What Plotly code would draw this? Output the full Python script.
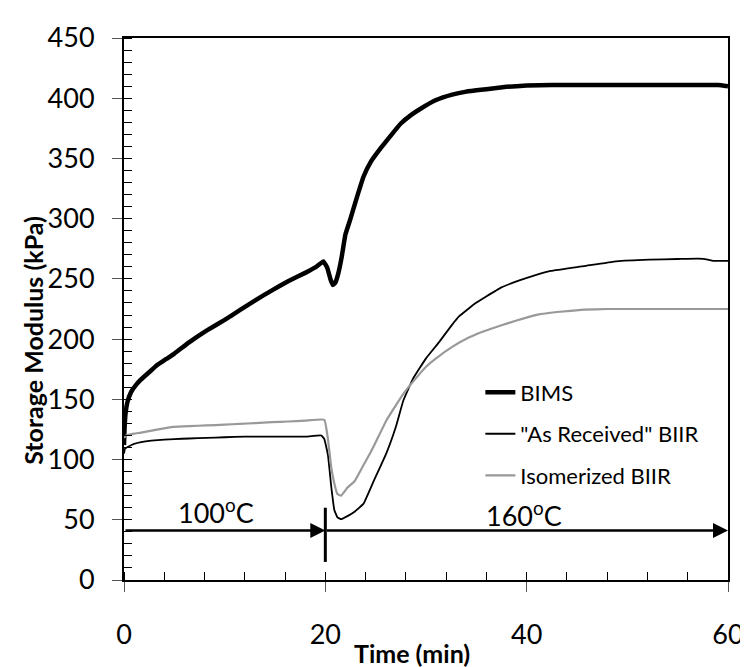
import plotly.graph_objects as go

# ---- data ----
bims_t = [0, 0.05, 0.15, 0.35, 0.7, 1.2, 1.7, 2.5, 3.3, 4.2, 5.0, 6.5, 8.2, 10, 11.5, 13, 14.7, 16.3, 18,
          19.0, 19.8, 20.2, 20.5, 20.75, 21.0, 21.3, 21.6, 22.0, 22.5, 23.0, 23.8, 24.5, 25.5, 26.5, 27.5,
          28.5, 29.5, 31, 32.6, 34, 36, 38, 40, 42.5, 45, 50, 55, 59, 60]
bims_v = [112, 125, 138, 148, 156, 162, 166.5, 172.5, 178.5, 183.5, 188, 197.5, 207, 216, 224, 232, 240.5, 248, 255,
          259.5, 264.5, 259, 250, 245, 247, 255, 267, 287, 300, 314, 335, 347, 358.5, 369, 379,
          386, 391.5, 398.5, 403, 405.5, 407.5, 409.5, 410.5, 411, 411, 411, 411, 411, 410]

ar_t = [0, 0.1, 0.5, 1.0, 1.7, 2.7, 4, 5, 6.5, 8.2, 10, 12, 14, 16, 18, 19.6, 19.9, 20.26, 20.6, 20.9, 21.2,
        21.57, 22.2, 22.9, 23.8, 24.8, 26.1, 27, 27.75, 28.7, 30, 31.3, 32.6, 33.3, 34.9, 35.9, 37.5, 39.2,
        40.8, 42.4, 45.7, 48.9, 52.2, 55, 57, 58, 58.5, 60]
ar_v = [105, 109, 111, 113, 114.5, 115.7, 116.5, 117, 117.5, 118, 118.5, 119, 119, 119, 119, 120, 117, 103.6,
        76.7, 58, 52, 50.5, 53, 56.6, 63.4, 82, 106, 127, 149, 167, 184, 197.5, 212, 219, 229.7, 235, 243,
        248.5, 253, 256.6, 260.6, 264.6, 266, 266.5, 266.8, 266, 265, 265]

iso_t = [0, 0.2, 1.0, 1.7, 3, 4.95, 6.5, 8.2, 10, 11.5, 13, 14.7, 16.3, 18, 19.9, 20.26, 20.6, 20.9, 21.2,
         21.57, 22.2, 22.9, 23.7, 24.5, 25.3, 26.1, 27, 27.75, 29.05, 30, 31, 32.6, 34.3, 35.9, 37.5, 39,
         41.1, 43, 45.7, 48, 50, 55, 60]
iso_v = [118, 120, 121.5, 122.4, 124.5, 127.2, 127.8, 128.3, 129, 129.6, 130.3, 131, 131.6, 132.3, 133, 117,
         92.8, 80, 71.4, 70, 76.7, 82, 94, 106, 119.5, 133, 145, 154.6, 168, 177, 184, 193.5, 201.5, 207,
         211.5, 215.5, 220.3, 222.5, 224.4, 225, 225, 225, 225]

series_names = ["BIMS", "\"As Received\" BIIR", "Isomerized BIIR"]
x_ticks = [0, 20, 40, 60]
y_ticks = [0, 50, 100, 150, 200, 250, 300, 350, 400, 450]

FONT = "Lato, 'Open Sans', sans-serif"

fig = go.Figure()
fig.add_trace(go.Scatter(x=bims_t, y=bims_v, mode="lines", name=series_names[0], legendgroup="a",
                         line=dict(color="black", width=4.5, shape="spline", smoothing=0.3)))
fig.add_trace(go.Scatter(x=ar_t, y=ar_v, mode="lines", name=series_names[1], legendgroup="b",
                         line=dict(color="black", width=1.8, shape="spline", smoothing=0.3)))
fig.add_trace(go.Scatter(x=iso_t, y=iso_v, mode="lines", name=series_names[2], legendgroup="c",
                         line=dict(color="#999999", width=2.2, shape="spline", smoothing=0.3)))

# temperature arrows
fig.add_annotation(x=20, y=41, ax=0, ay=41, xref="x", yref="y", axref="x", ayref="y",
                   showarrow=True, arrowhead=2, arrowsize=1.2, arrowwidth=2.5, arrowcolor="black",
                   standoff=0, text="")
fig.add_annotation(x=60, y=41, ax=20, ay=41, xref="x", yref="y", axref="x", ayref="y",
                   showarrow=True, arrowhead=2, arrowsize=1.2, arrowwidth=2.5, arrowcolor="black",
                   standoff=0, text="")
fig.add_shape(type="line", x0=20, x1=20, y0=15, y1=60, xref="x", yref="y",
              line=dict(color="black", width=3))
fig.add_annotation(x=9.1, y=57, xref="x", yref="y", showarrow=False,
                   text="100<sup>o</sup>C", font=dict(family=FONT, size=27, color="black"))
fig.add_annotation(x=39.7, y=55, xref="x", yref="y", showarrow=False,
                   text="160<sup>o</sup>C", font=dict(family=FONT, size=27, color="black"))

# axis titles
fig.add_annotation(x=0.477, y=-0.134, xref="paper", yref="paper", showarrow=False,
                   text="<b>Time (min)</b>", font=dict(family=FONT, size=25, color="black"),
                   xanchor="center", yanchor="middle")
fig.add_annotation(x=-0.15, y=0.442, xref="paper", yref="paper", showarrow=False, textangle=-90,
                   text="<b>Storage Modulus (kPa)</b>", font=dict(family=FONT, size=25, color="black"),
                   xanchor="center", yanchor="middle")

fig.update_xaxes(range=[0, 60], tickvals=x_ticks, ticks="outside", ticklen=10, tickcolor="#555555",
                 tickwidth=1.2, showline=True, linecolor="black", linewidth=2, mirror=True,
                 showgrid=False, zeroline=False, ticklabelstandoff=20, ticklabeloverflow="allow",
                 tickfont=dict(family=FONT, size=27, color="black"),
                 minor=dict(ticks="inside", dtick=4, ticklen=8, tickcolor="black", tickwidth=1.2))
fig.update_yaxes(range=[0, 450], tickvals=y_ticks, ticks="outside", ticklen=10, tickcolor="#555555",
                 tickwidth=1.2, showline=True, linecolor="black", linewidth=2, mirror=True,
                 showgrid=False, zeroline=False, ticklabelstandoff=12, ticklabeloverflow="allow",
                 tickfont=dict(family=FONT, size=27, color="black"),
                 minor=dict(ticks="inside", dtick=10, ticklen=8, tickcolor="black", tickwidth=1.2))

fig.update_layout(
    width=748, height=667,
    margin=dict(l=116, r=18, t=13, b=95),
    paper_bgcolor="white", plot_bgcolor="white",
    showlegend=True,
    legend=dict(x=0.59, y=0.385, xanchor="left", yanchor="top", bgcolor="rgba(0,0,0,0)",
                font=dict(family=FONT, size=22, color="black"), tracegroupgap=10),
)

fig.write_html("out.html")
